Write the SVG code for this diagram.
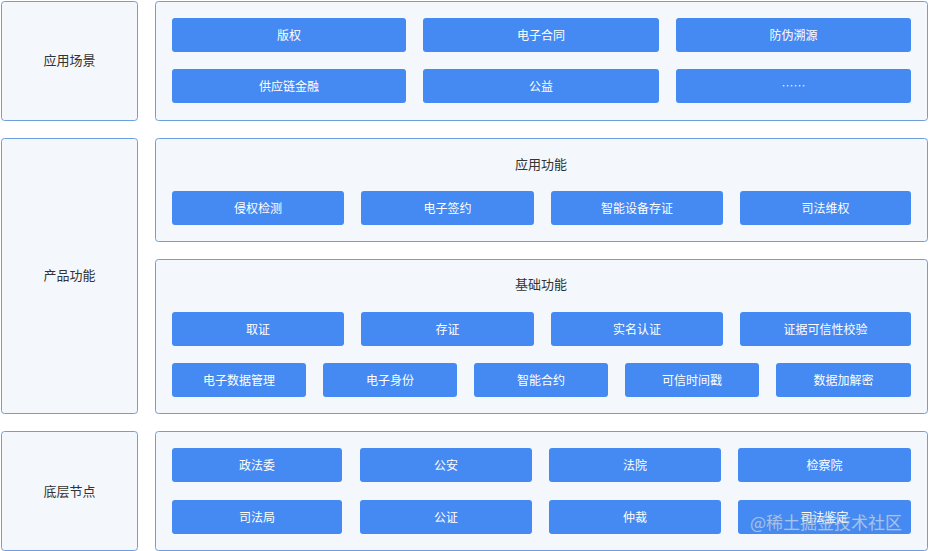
<svg xmlns="http://www.w3.org/2000/svg" width="929" height="551" viewBox="0 0 929 551">
<style>
.panel{fill:#f4f8fd;stroke:#6d9fdf;stroke-width:1}
.btn{fill:#448af2}
.bt{font-family:"Noto Sans CJK SC","Noto Sans",sans-serif;font-size:12px;fill:#ffffff;text-anchor:middle;dominant-baseline:central}
.lt{font-family:"Noto Sans CJK SC","Noto Sans",sans-serif;font-size:13px;fill:#333333;text-anchor:middle;dominant-baseline:central}
.wm{font-family:"Noto Sans CJK SC","Noto Sans",sans-serif;font-size:17px;fill:#ffffff;fill-opacity:0.55;stroke:#8a9bb5;stroke-opacity:0.35;stroke-width:0.6}
</style>
<rect width="929" height="551" fill="#ffffff"/>
<g id="connectors"></g>
<g id="label-scene"><rect class="panel" x="1.5" y="1.5" width="136" height="119" rx="3"/><text class="lt" x="69.5" y="59">应用场景</text></g>
<g id="label-product"><rect class="panel" x="1.5" y="138.5" width="136" height="275" rx="3"/><text class="lt" x="69.5" y="274">产品功能</text></g>
<g id="label-base"><rect class="panel" x="1.5" y="431.5" width="136" height="119" rx="3"/><text class="lt" x="69.5" y="490">底层节点</text></g>

<g id="scene"><rect class="panel" x="155.5" y="1.5" width="772" height="119" rx="3"/>
<g id="s1"><rect class="btn" x="172" y="18" width="234" height="34" rx="3"/><text class="bt" x="289" y="34">版权</text></g>
<g id="s2"><rect class="btn" x="423" y="18" width="236" height="34" rx="3"/><text class="bt" x="541" y="34">电子合同</text></g>
<g id="s3"><rect class="btn" x="676" y="18" width="235" height="34" rx="3"/><text class="bt" x="793.5" y="34">防伪溯源</text></g>
<g id="s4"><rect class="btn" x="172" y="69" width="234" height="34" rx="3"/><text class="bt" x="289" y="85">供应链金融</text></g>
<g id="s5"><rect class="btn" x="423" y="69" width="236" height="34" rx="3"/><text class="bt" x="541" y="85">公益</text></g>
<g id="s6"><rect class="btn" x="676" y="69" width="235" height="34" rx="3"/><text class="bt" x="793.5" y="85" style="fill:#dfe9fb">……</text></g>
</g>

<g id="app"><rect class="panel" x="155.5" y="138.5" width="772" height="103" rx="3"/>
<text class="lt" x="541" y="163">应用功能</text>
<g id="a1"><rect class="btn" x="172" y="191" width="172" height="34" rx="3"/><text class="bt" x="258" y="207">侵权检测</text></g>
<g id="a2"><rect class="btn" x="361" y="191" width="173" height="34" rx="3"/><text class="bt" x="447.5" y="207">电子签约</text></g>
<g id="a3"><rect class="btn" x="551" y="191" width="172" height="34" rx="3"/><text class="bt" x="637" y="207">智能设备存证</text></g>
<g id="a4"><rect class="btn" x="740" y="191" width="171" height="34" rx="3"/><text class="bt" x="825.5" y="207">司法维权</text></g>
</g>

<g id="basic"><rect class="panel" x="155.5" y="259.5" width="772" height="154" rx="3"/>
<text class="lt" x="541" y="283">基础功能</text>
<g id="b1"><rect class="btn" x="172" y="312" width="172" height="34" rx="3"/><text class="bt" x="258" y="328">取证</text></g>
<g id="b2"><rect class="btn" x="361" y="312" width="173" height="34" rx="3"/><text class="bt" x="447.5" y="328">存证</text></g>
<g id="b3"><rect class="btn" x="551" y="312" width="172" height="34" rx="3"/><text class="bt" x="637" y="328">实名认证</text></g>
<g id="b4"><rect class="btn" x="740" y="312" width="171" height="34" rx="3"/><text class="bt" x="825.5" y="328">证据可信性校验</text></g>
<g id="b5"><rect class="btn" x="172" y="363" width="134" height="34" rx="3"/><text class="bt" x="239" y="379">电子数据管理</text></g>
<g id="b6"><rect class="btn" x="323" y="363" width="134" height="34" rx="3"/><text class="bt" x="390" y="379">电子身份</text></g>
<g id="b7"><rect class="btn" x="474" y="363" width="134" height="34" rx="3"/><text class="bt" x="541" y="379">智能合约</text></g>
<g id="b8"><rect class="btn" x="625" y="363" width="134" height="34" rx="3"/><text class="bt" x="692" y="379">可信时间戳</text></g>
<g id="b9"><rect class="btn" x="776" y="363" width="135" height="34" rx="3"/><text class="bt" x="843.5" y="379">数据加解密</text></g>
</g>

<g id="base"><rect class="panel" x="155.5" y="431.5" width="772" height="119" rx="3"/>
<g id="n1"><rect class="btn" x="172" y="448" width="170" height="34" rx="3"/><text class="bt" x="257" y="464">政法委</text></g>
<g id="n2"><rect class="btn" x="360" y="448" width="172" height="34" rx="3"/><text class="bt" x="446" y="464">公安</text></g>
<g id="n3"><rect class="btn" x="549" y="448" width="172" height="34" rx="3"/><text class="bt" x="635" y="464">法院</text></g>
<g id="n4"><rect class="btn" x="738" y="448" width="173" height="34" rx="3"/><text class="bt" x="824.5" y="464">检察院</text></g>
<g id="n5"><rect class="btn" x="172" y="500" width="170" height="34" rx="3"/><text class="bt" x="257" y="516">司法局</text></g>
<g id="n6"><rect class="btn" x="360" y="500" width="172" height="34" rx="3"/><text class="bt" x="446" y="516">公证</text></g>
<g id="n7"><rect class="btn" x="549" y="500" width="172" height="34" rx="3"/><text class="bt" x="635" y="516">仲裁</text></g>
<g id="n8"><rect class="btn" x="738" y="500" width="173" height="34" rx="3"/><text class="bt" x="824.5" y="516">司法鉴定</text></g>
</g>
<text class="wm" x="750" y="529">@稀土掘金技术社区</text>
</svg>
